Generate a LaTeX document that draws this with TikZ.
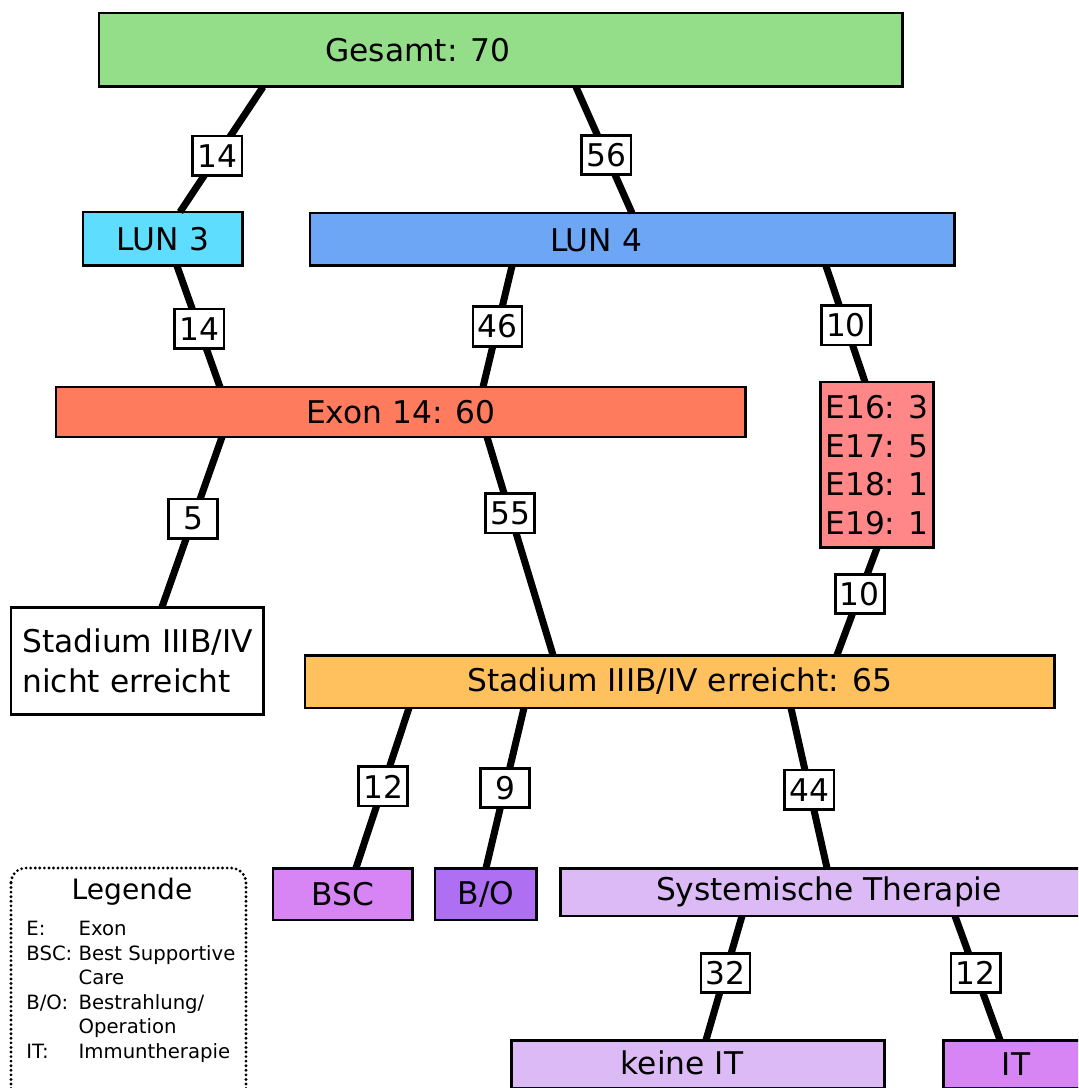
\documentclass[tikz,border=0pt]{standalone}
\usepackage{fontspec}
\setmainfont{DejaVu Sans}
\usetikzlibrary{calc}

\definecolor{gesamtgreen}{HTML}{95DE89}
\definecolor{lunthree}{HTML}{5FDDFF}
\definecolor{lunfour}{HTML}{6CA6F4}
\definecolor{exonred}{HTML}{FF7B5E}
\definecolor{exonrare}{HTML}{FF8787}
\definecolor{stadiumorange}{HTML}{FFC15E}
\definecolor{violet}{HTML}{D785F5}
\definecolor{purple}{HTML}{AF6FF2}
\definecolor{lavender}{HTML}{DCBAF6}

\begin{document}
\begin{tikzpicture}[x=0.02cm, y=-0.02cm,
    box/.style={draw, line width=1.7pt, anchor=north west, inner sep=0pt, outer sep=0pt,
                font=\fontsize{17.8}{22}\selectfont},
    txt/.style={inner sep=0pt, font=\fontsize{17.8}{22}\selectfont},
    link/.style={line width=4pt},
    count/.style={draw, line width=1.5pt, fill=white, minimum width=28pt, minimum height=22.5pt,
                  inner sep=1pt, font=\fontsize{17.8}{22}\selectfont}]
        % Canvas
        \useasboundingbox (0,0) rectangle (1078,1088);
        \clip (0,0) rectangle (1078,1088);

        % Boxes
        \node[box, fill=gesamtgreen, minimum width=16.08cm, minimum height=1.48cm] (gesamt) at (99,13) {};
        \node[txt] (gesamt-t) at (418,50) {Gesamt: 70};
        \node[box, fill=lunthree, minimum width=3.2cm, minimum height=1.08cm] (lun3) at (83,212) {LUN 3};
        \node[box, fill=lunfour, minimum width=12.9cm, minimum height=1.06cm] (lun4) at (310,213) {};
        \node[txt] (lun4-t) at (596,240) {LUN 4};
        \node[box, fill=exonred, minimum width=13.8cm, minimum height=1.0cm] (exon) at (56,387) {Exon 14: 60};
        \node[box, fill=exonrare, minimum width=2.28cm, minimum height=3.32cm, align=left] (rare) at (820,382)
            {E16: 3\\E17: 5\\E18: 1\\E19: 1};
        \node[box, fill=white, minimum width=5.06cm, minimum height=2.16cm, align=left,
              font=\fontsize{17.8}{22.8}\selectfont] (nicht) at (11,607) {Stadium IIIB/IV\\nicht erreicht};
        \node[box, fill=stadiumorange, minimum width=15.0cm, minimum height=1.06cm] (erreicht) at (305,655)
            {Stadium IIIB/IV erreicht: 65};
        \node[box, fill=violet, minimum width=2.8cm, minimum height=1.04cm] (bsc) at (273,868) {BSC};
        \node[box, fill=purple, minimum width=2.04cm, minimum height=1.04cm] (bo) at (435,868) {B/O};
        \node[box, fill=lavender, minimum width=10.76cm, minimum height=0.96cm] (syst) at (560,868)
            {Systemische Therapie};
        \node[box, fill=lavender, minimum width=7.48cm, minimum height=0.96cm] (keine) at (511,1040) {};
        \node[txt] (keine-t) at (682,1063) {keine IT};
        \node[box, fill=violet, minimum width=2.92cm, minimum height=0.96cm] (it) at (943,1040) {IT};

        % Links with counts
        \draw[link] ($(gesamt.south west)+(164,0)$) -- node[count, pos=0.55] (c-lun3) {14} ($(lun3.north west)+(97,0)$);
        \draw[link] ($(gesamt.south west)+(477,0)$) -- node[count, pos=0.54] (c-lun4) {56} ($(lun4.north west)+(322,0)$);
        \draw[link] ($(lun3.south west)+(94,0)$) -- node[count, pos=0.52] (c-exon3) {14} ($(exon.north west)+(164,0)$);
        \draw[link] ($(lun4.south west)+(202,0)$) -- node[count, pos=0.5] (c-exon4) {46} ($(exon.north west)+(427,0)$);
        \draw[link] ($(lun4.south west)+(516,0)$) -- node[count, pos=0.51] (c-rare) {10} ($(rare.north west)+(45,0)$);
        \draw[link] ($(exon.south west)+(166,0)$) -- node[count, pos=0.48] (c-nicht) {5} ($(nicht.north west)+(151,0)$);
        \draw[link] ($(exon.south west)+(431,0)$) -- node[count, pos=0.35] (c-erreicht) {55} ($(erreicht.north west)+(248,0)$);
        \draw[link] ($(rare.south west)+(57,0)$) -- node[count, pos=0.43] (c-rare2) {10} ($(erreicht.north west)+(532,0)$);
        \draw[link] ($(erreicht.south west)+(104,0)$) -- node[count, pos=0.49] (c-bsc) {12} ($(bsc.north west)+(83,0)$);
        \draw[link] ($(erreicht.south west)+(219,0)$) -- node[count, pos=0.5] (c-bo) {9} ($(bo.north west)+(51,0)$);
        \draw[link] ($(erreicht.south west)+(486,0)$) -- node[count, pos=0.51] (c-syst) {44} ($(syst.north west)+(267,0)$);
        \draw[link] ($(syst.south west)+(182,0)$) -- node[count, pos=0.46] (c-keine) {32} ($(keine.north west)+(195,0)$);
        \draw[link] ($(syst.south west)+(395,0)$) -- node[count, pos=0.46] (c-it) {12} ($(it.north west)+(57,0)$);

        % Legend
        \draw[line width=1.8pt, line cap=round, dash pattern=on 0pt off 2.6pt, rounded corners=0.3cm]
            (11,868) rectangle (246,1110);
        \node[inner sep=0pt, font=\fontsize{16}{19}\selectfont] (legend-title) at (132,892) {Legende};
        \node[anchor=north west, inner sep=0pt, font=\fontsize{11.2}{14}\selectfont] (legend-list) at (26,918) {%
            \begin{tabular}{@{}l@{ }l@{}}
                E: & Exon\\
                BSC: & Best Supportive\\
                 & Care\\
                B/O: & Bestrahlung/\\
                 & Operation\\
                IT: & Immuntherapie
            \end{tabular}};
    \end{tikzpicture}
\end{document}
